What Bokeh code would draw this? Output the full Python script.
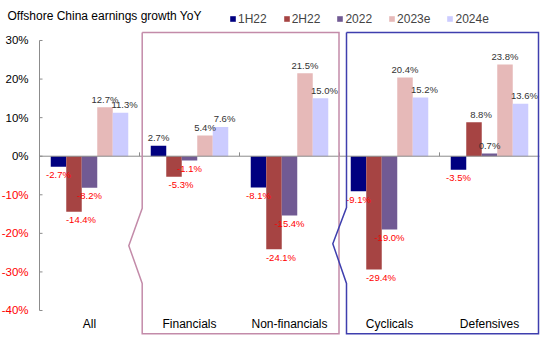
from bokeh.plotting import figure
from bokeh.models import ColumnDataSource, Range1d, Legend, LegendItem
from bokeh.embed import file_html
from bokeh.resources import INLINE
from bokeh.core.properties import value

# ---------------- data ----------------
title_text = "Offshore China earnings growth YoY"
categories = ["All", "Financials", "Non-financials", "Cyclicals", "Defensives"]
series_names = ["1H22", "2H22", "2022", "2023e", "2024e"]
h1_22 = [-2.7, 2.7, -8.1, -9.1, -3.5]
h2_22 = [-14.4, -5.3, -24.1, -29.4, 8.8]
fy22 = [-8.2, -1.1, -15.4, -19.0, 0.7]
fy23e = [12.7, 5.4, 21.5, 20.4, 23.8]
fy24e = [11.3, 7.6, 15.0, 15.2, 13.6]
y_ticks = [-40, -30, -20, -10, 0, 10, 20, 30]
y_tick_labels = ["-40%", "-30%", "-20%", "-10%", "0%", "10%", "20%", "30%"]

# ---------------- style ----------------
FONT = "Liberation Sans"
colors = ["#000080", "#A64443", "#715A93", "#E6B9B8", "#CCCCFF"]
label_dx = [0, 7, 0, 0, 4]
bar_w = 0.155
PINK = "#C38BA9"
BLUE = "#3F3FAE"
AXIS_GRAY = "#8C8C8C"
W, H = 550, 355

p = figure(width=W, height=H, output_backend="svg", toolbar_location=None,
           x_range=Range1d(-0.39, 5.11), y_range=Range1d(-51.667, 40.37),
           x_axis_location=None, y_axis_location=None,
           min_border_left=0, min_border_right=0, min_border_top=0, min_border_bottom=0)
p.outline_line_color = None
p.grid.visible = False
p.background_fill_color = "white"
p.border_fill_color = "white"

# value axis (line, inward ticks, labels)
p.line([0, 0], [y_ticks[0], y_ticks[-1]], line_color=AXIS_GRAY, line_width=1)
p.segment(x0=[0] * len(y_ticks), y0=y_ticks, x1=[0.03] * len(y_ticks), y1=y_ticks,
          line_color=AXIS_GRAY, line_width=1)
p.text(x=[-0.11] * len(y_ticks), y=y_ticks, text=y_tick_labels,
       text_color=["#FF0000" if t < 0 else "black" for t in y_ticks],
       text_align="right", text_baseline="middle",
       text_font=value(FONT), text_font_size="11.5px")

all_series = [h1_22, h2_22, fy22, fy23e, fy24e]
renderers = []
lab_x, lab_y, lab_t, lab_c, lab_dx, lab_dy = [], [], [], [], [], []
for k, (name, vals) in enumerate(zip(series_names, all_series)):
    xs = [i + 0.5 + (k - 2) * bar_w for i in range(len(categories))]
    src = ColumnDataSource(dict(x=xs, top=vals))
    r = p.vbar(x="x", top="top", bottom=0, width=bar_w, source=src,
               fill_color=colors[k], line_color=None)
    renderers.append(r)
    for x, v in zip(xs, vals):
        lab_x.append(x)
        lab_y.append(v)
        lab_t.append(f"{v:.1f}%")
        lab_c.append("#333333" if v >= 0 else "#FF0000")
        lab_dx.append(label_dx[k])
        lab_dy.append(-8 if v >= 0 else 8)

# category axis line at zero and boundary ticks
p.line([0, 5], [0, 0], line_color=AXIS_GRAY, line_width=1)
p.segment(x0=[1, 2, 3, 4], y0=[0] * 4, x1=[1, 2, 3, 4], y1=[1.0] * 4,
          line_color=AXIS_GRAY, line_width=1)

lsrc = ColumnDataSource(dict(x=lab_x, y=lab_y, text=lab_t, color=lab_c, dx=lab_dx, dy=lab_dy))
p.text(x="x", y="y", text="text", source=lsrc, text_color="color",
       x_offset="dx", y_offset="dy", text_align="center", text_baseline="middle",
       text_font=value(FONT), text_font_size="9.5px")

# category labels
p.text(x=[i + 0.5 for i in range(len(categories))], y=[-43.5] * len(categories),
       text=categories, text_align="center", text_baseline="middle",
       text_font=value(FONT), text_font_size="12px", text_color="black")

# group boxes with zigzag left edges
pink_x = [1.027, 2.995, 2.995, 1.027, 1.027, 0.893, 1.027, 1.027]
pink_y = [32.1, 32.1, -46.0, -46.0, -33.0, -23.2, -13.5, 32.1]
blue_x = [3.07, 4.99, 4.99, 3.07, 3.07, 2.933, 3.07, 3.07]
blue_y = [32.1, 32.1, -46.0, -46.0, -33.0, -22.7, -13.3, 32.1]
p.line(pink_x, pink_y, line_color=PINK, line_width=1.5, line_join="miter")
p.line(blue_x, blue_y, line_color=BLUE, line_width=1.5, line_join="miter")

# title
p.text(x=[-0.32], y=[36.3], text=[title_text], text_align="left", text_baseline="middle",
       text_font=value(FONT), text_font_size="12px", text_color="black")

legend = Legend(items=[LegendItem(label=n, renderers=[r]) for n, r in zip(series_names, renderers)],
                orientation="horizontal", location=(229, 329.5), padding=0, margin=0,
                spacing=16, border_line_color=None, background_fill_alpha=0,
                label_text_font=FONT, label_text_font_size="12px",
                label_standoff=2, glyph_width=7, glyph_height=7, label_height=12)
p.add_layout(legend)

open("out.html", "w").write(file_html(p, INLINE))
